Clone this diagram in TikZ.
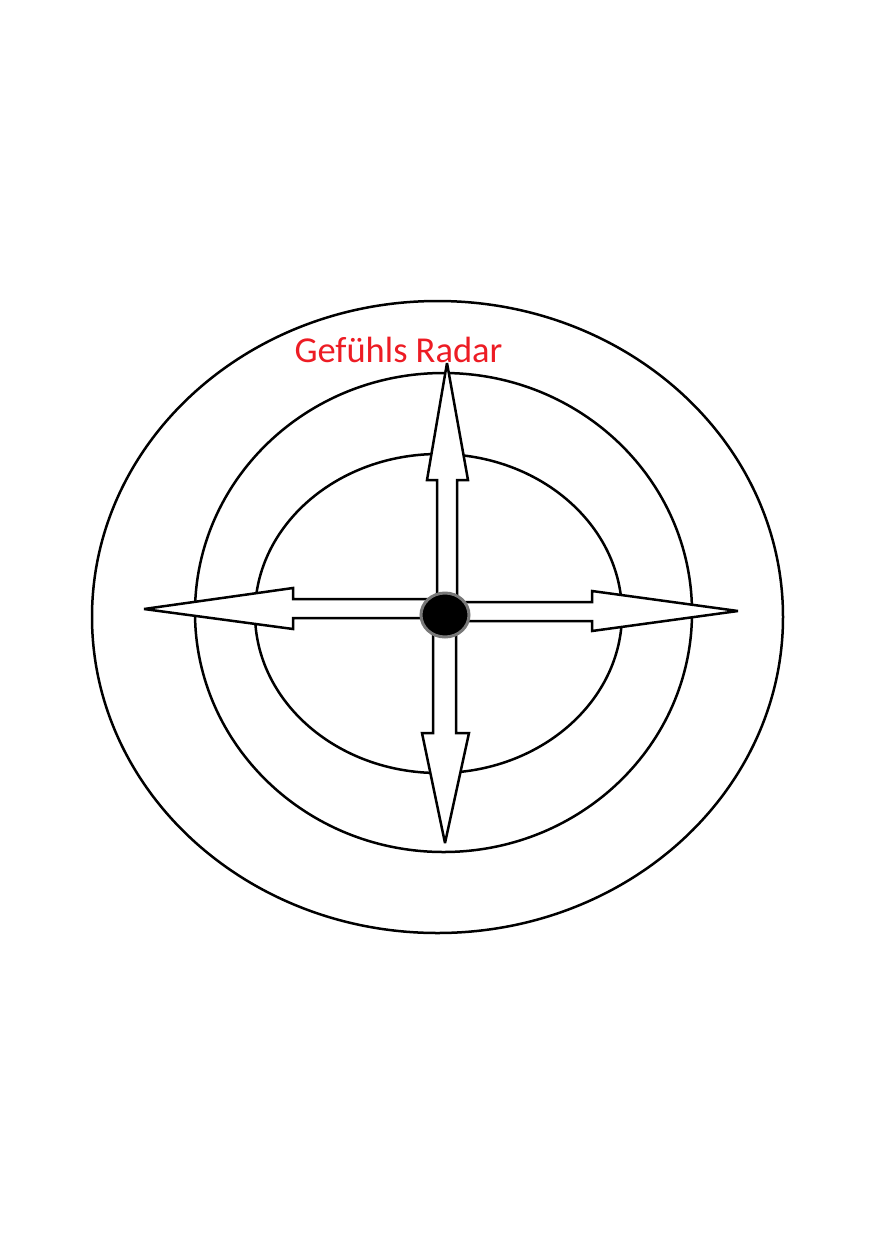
\documentclass[tikz,border=0pt]{standalone}
\usepackage{fontspec}
\setmainfont{Carlito}
\usetikzlibrary{shapes.geometric}
\definecolor{radarred}{RGB}{237,28,36}
\definecolor{dotgray}{RGB}{120,120,120}
\begin{document}
\begin{tikzpicture}[x=1pt,y=-1pt,
  ring/.style={draw=black,line width=2.5pt},
  arrowshape/.style={draw=black,fill=white,line width=2.5pt,line join=miter,miter limit=4},
  title/.style={text=radarred,font=\fontsize{36.5}{40}\selectfont,inner sep=0pt,anchor=base}]
\useasboundingbox[fill=white] (0,0) rectangle (874,1240);
% rings
\draw[ring] (437.5,617) ellipse [x radius=345.5,y radius=316];
\draw[ring] (443.5,612.5) ellipse [x radius=248.5,y radius=239.5];
\draw[ring] (438.5,613.5) ellipse [x radius=183.5,y radius=159.5];
% up arrow
\draw[arrowshape] (437,615) -- (437,480) -- (427,480) -- (447,363) -- (468,480) -- (457,480) -- (457,615) -- cycle;
% down arrow
\draw[arrowshape] (433,615) -- (433,733) -- (422,733) -- (445,843) -- (469,733) -- (456,733) -- (456,615) -- cycle;
% left arrow
\draw[arrowshape] (445,599) -- (293,599) -- (293,588) -- (144,609) -- (293,629) -- (293,618) -- (445,618) -- cycle;
% right arrow
\draw[arrowshape] (445,602) -- (592,602) -- (592,591) -- (738,611) -- (592,631) -- (592,621) -- (445,621) -- cycle;
% centre dot
\node[draw=dotgray,fill=black,line width=3pt,ellipse,minimum width=48pt,minimum height=44pt,inner sep=0pt] (dot) at (445,615) {};
% title
\node[title] (t) at (398.5,362) {Gefühls Radar};
\end{tikzpicture}
\end{document}
